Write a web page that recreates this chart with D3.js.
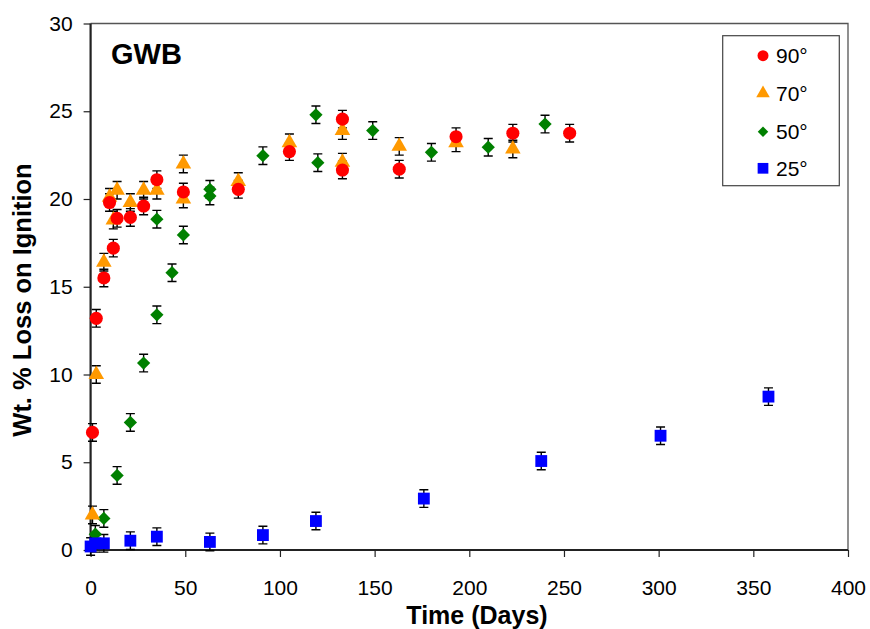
<!DOCTYPE html>
<html>
<head>
<meta charset="utf-8">
<script src="https://cdn.jsdelivr.net/npm/d3@7"></script>
<style>
  html, body { margin: 0; padding: 0; background: #fff; }
  svg { display: block; font-family: "Liberation Sans", Arial, Helvetica, sans-serif; }
</style>
</head>
<body>
<svg id="chart" width="870" height="629"></svg>
<script>
// ---- Data ----
const xTicks = [0, 50, 100, 150, 200, 250, 300, 350, 400];
const yTicks = [0, 5, 10, 15, 20, 25, 30];
const seriesNames = ["90°", "70°", "50°", "25°"];
const errorHalf = 0.5;

const days90 = [1, 3, 7, 10, 12, 14, 21, 28, 35, 49, 78, 105, 133, 133, 163, 193, 223, 253];
const vals90 = [6.7, 13.2, 15.5, 19.8, 17.2, 18.9, 18.95, 19.6, 21.1, 20.4, 20.55, 22.7, 24.55, 21.65, 21.7, 23.55, 23.75, 23.75];

const days70 = [1, 3, 7, 10, 12, 14, 21, 28, 35, 49, 49, 78, 105, 133, 133, 163, 193, 223];
const vals70 = [2.0, 10.0, 16.4, 20.1, 18.8, 20.5, 19.8, 20.5, 20.5, 22.0, 20.0, 21.0, 23.2, 23.9, 22.1, 23.0, 23.2, 22.85];

const days50 = [2.5, 7, 14, 21, 28, 35, 35, 43, 49, 63, 63, 91, 119, 120, 149, 180, 210, 240];
const vals50 = [0.9, 1.8, 4.25, 7.27, 10.65, 13.4, 18.85, 15.8, 17.95, 20.55, 20.17, 22.47, 24.8, 22.07, 23.9, 22.66, 22.95, 24.27];

const days25 = [0, 2.5, 7, 21, 35, 63, 91, 119, 176, 238, 301, 358];
const vals25 = [0.2, 0.38, 0.38, 0.53, 0.76, 0.46, 0.85, 1.65, 2.93, 5.07, 6.51, 8.74];

// ---- Layout ----
const svg = d3.select("#chart");
const mLeft = 90.6, mRight = 848, mTop = 23.5, mBottom = 550;

const x = d3.scaleLinear().domain([0, 400]).range([mLeft, mRight]);
const y = d3.scaleLinear().domain([0, 30]).range([mBottom, mTop]);

// square diamond (rotated square, equal width and height)
const symbolRhombus = {
  draw(ctx, size) {
    const r = Math.sqrt(size / 2);
    ctx.moveTo(0, -r); ctx.lineTo(r, 0); ctx.lineTo(0, r); ctx.lineTo(-r, 0); ctx.closePath();
  }
};

const colors = ["#FF0000", "#FF9900", "#008000", "#0000FF"];
const symbols = [d3.symbolCircle, d3.symbolTriangle, symbolRhombus, d3.symbolSquare];
const sizes = [135, 105, 88, 140];
const legendSizes = [95, 80, 55, 115];

const series = [
  { name: seriesNames[0], days: days90, vals: vals90 },
  { name: seriesNames[1], days: days70, vals: vals70 },
  { name: seriesNames[2], days: days50, vals: vals50 },
  { name: seriesNames[3], days: days25, vals: vals25 }
].map((s, i) => ({ ...s, color: colors[i], symbol: symbols[i], size: sizes[i], lsize: legendSizes[i],
  points: s.days.map((d, j) => ({ d, v: s.vals[j] })) }));

// frame (top & right)
svg.append("path")
  .attr("d", `M${mLeft},${mTop}H${mRight}V${mBottom}`)
  .attr("fill", "none").attr("stroke", "#555").attr("stroke-width", 1.3);

// axes
const yAxis = svg.append("g").attr("transform", `translate(${mLeft},0)`)
  .call(d3.axisLeft(y).tickValues(yTicks).tickSize(7).tickPadding(11).tickFormat(d3.format("d")));
const xAxis = svg.append("g").attr("transform", `translate(0,${mBottom})`)
  .call(d3.axisBottom(x).tickValues(xTicks).tickSize(7).tickPadding(23).tickFormat(d3.format("d")));
[yAxis, xAxis].forEach(g => {
  g.select(".domain").attr("stroke", "#222").attr("stroke-width", 2.2);
  g.selectAll(".tick line").attr("stroke", "#222").attr("stroke-width", 1.2);
  g.selectAll(".tick text").attr("font-size", 21).attr("fill", "#000")
    .attr("font-family", "'Liberation Sans', Arial, sans-serif");
});
yAxis.select(".domain").attr("d", `M0,${y(30)}V${y(0)}`);
xAxis.select(".domain").attr("d", `M${x(0)},0H${x(400)}`);

// error bars (behind markers)
const errG = svg.append("g").attr("stroke", "#000").attr("stroke-width", 1.4).attr("fill", "none");
series.forEach(s => {
  errG.selectAll(null).data(s.points).enter().append("path")
    .attr("d", p => {
      const cx = x(p.d), y1 = y(p.v + errorHalf), y2 = y(p.v - errorHalf);
      return `M${cx},${y1}V${y2}M${cx - 4.5},${y1}H${cx + 4.5}M${cx - 4.5},${y2}H${cx + 4.5}`;
    });
});

// markers: draw 50, 70, 90, 25 order
[2, 1, 0, 3].forEach(i => {
  const s = series[i];
  svg.append("g").selectAll("path").data(s.points).enter().append("path")
    .attr("transform", p => `translate(${x(p.d)},${y(p.v)})`)
    .attr("d", d3.symbol().type(s.symbol).size(s.size)())
    .attr("fill", s.color);
});

// GWB label
svg.append("text").attr("x", 111).attr("y", 64)
  .attr("font-size", 29).attr("font-weight", "bold").text("GWB");

// axis titles
svg.append("text").attr("x", 477).attr("y", 624).attr("text-anchor", "middle")
  .attr("font-size", 25).attr("font-weight", "bold").text("Time (Days)");
svg.append("text").attr("transform", "translate(31,300) rotate(-90)").attr("text-anchor", "middle")
  .attr("font-size", 25.5).attr("font-weight", "bold").text("Wt. % Loss on Ignition");

// legend
const lg = svg.append("g");
lg.append("rect").attr("x", 722.7).attr("y", 35.7).attr("width", 116.6).attr("height", 150)
  .attr("fill", "#fff").attr("stroke", "#444").attr("stroke-width", 1.2);
const legendY = [55.7, 93.3, 131.7, 168.3];
series.forEach((s, i) => {
  lg.append("path").attr("transform", `translate(763,${legendY[i]})`)
    .attr("d", d3.symbol().type(s.symbol).size(s.lsize)()).attr("fill", s.color);
  lg.append("text").attr("x", 776).attr("y", legendY[i]).attr("dy", "0.36em")
    .attr("font-size", 21).text(s.name);
});
</script>
</body>
</html>
